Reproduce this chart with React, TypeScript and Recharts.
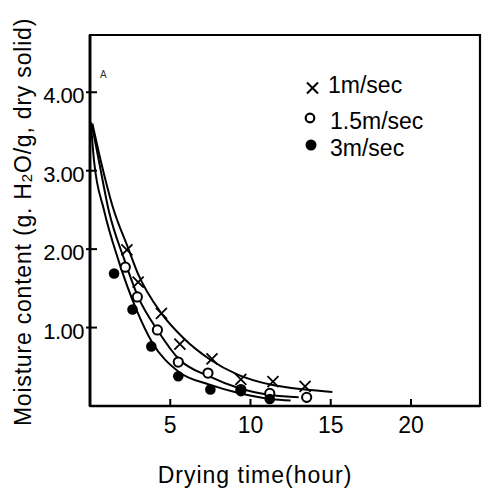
import React from "react";
import { ComposedChart, Line, Scatter, XAxis, YAxis, ReferenceArea } from "recharts";

// fitted curves (drying time h, moisture g/g)
const curve1 = [
  { x: 0.15, y: 3.6 }, { x: 0.7, y: 3.1 }, { x: 1.4, y: 2.55 }, { x: 2.4, y: 2.0 },
  { x: 3.0, y: 1.68 }, { x: 4.45, y: 1.18 }, { x: 5.8, y: 0.87 }, { x: 7.5, y: 0.59 },
  { x: 9.2, y: 0.4 }, { x: 11.3, y: 0.27 }, { x: 13.4, y: 0.21 }, { x: 15.1, y: 0.18 },
];
const curve15 = [
  { x: 0.1, y: 3.6 }, { x: 0.55, y: 3.13 }, { x: 1.16, y: 2.5 }, { x: 2.15, y: 1.86 },
  { x: 3.0, y: 1.39 }, { x: 4.26, y: 0.95 }, { x: 5.53, y: 0.6 }, { x: 7.4, y: 0.38 },
  { x: 9.4, y: 0.22 }, { x: 11.3, y: 0.14 }, { x: 13.0, y: 0.11 },
];
const curve3 = [
  { x: 0.05, y: 3.62 }, { x: 0.25, y: 3.13 }, { x: 0.87, y: 2.5 }, { x: 1.77, y: 1.86 },
  { x: 2.91, y: 1.22 }, { x: 3.85, y: 0.82 }, { x: 5.5, y: 0.44 }, { x: 7.5, y: 0.27 },
  { x: 9.2, y: 0.17 }, { x: 11.3, y: 0.09 }, { x: 12.5, y: 0.07 },
];

// measured points
const pts1 = [
  { x: 2.3, y: 1.99 }, { x: 3.0, y: 1.58 }, { x: 4.45, y: 1.18 }, { x: 5.6, y: 0.79 },
  { x: 7.6, y: 0.6 }, { x: 9.4, y: 0.34 }, { x: 11.4, y: 0.31 }, { x: 13.4, y: 0.25 },
];
const pts15 = [
  { x: 2.2, y: 1.77 }, { x: 2.95, y: 1.39 }, { x: 4.2, y: 0.97 }, { x: 5.5, y: 0.56 },
  { x: 7.35, y: 0.42 }, { x: 9.4, y: 0.21 }, { x: 11.2, y: 0.16 }, { x: 13.5, y: 0.11 },
];
const pts3 = [
  { x: 1.5, y: 1.69 }, { x: 2.65, y: 1.23 }, { x: 3.82, y: 0.76 }, { x: 5.5, y: 0.38 },
  { x: 7.5, y: 0.21 }, { x: 9.4, y: 0.19 }, { x: 11.2, y: 0.09 },
];

const xTicks = [5, 10, 15, 20];
const yTicks = [1, 2, 3, 4];
const yTickLabels = ["1.00", "2.00", "3.00", "4.00"];
const legendLabels = ["1m/sec", "1.5m/sec", "3m/sec"];
const X_MAX = 24.3;
const Y_MAX = 4.73;

const FONT = "'Liberation Sans', Arial, sans-serif";

const XTick = (p: any) => {
  const { x, y, payload } = p;
  return (
    <g>
      <line x1={x} y1={y} x2={x} y2={y - 7} stroke="#000" strokeWidth={2} />
      <text x={x} y={y + 27} textAnchor="middle" fontSize={23} fontFamily={FONT} fill="#000">
        {payload.value}
      </text>
    </g>
  );
};

const YTick = (p: any) => {
  const { x, y, payload } = p;
  const idx = yTicks.indexOf(payload.value);
  return (
    <g>
      <line x1={x - 4} y1={y} x2={x + 7} y2={y} stroke="#000" strokeWidth={2} />
      <text x={x - 6} y={y + 11} textAnchor="end" fontSize={22} letterSpacing={-0.5} fontFamily={FONT} fill="#000">
        {idx >= 0 ? yTickLabels[idx] : ""}
      </text>
    </g>
  );
};

const CrossShape = (p: any) => {
  const { cx, cy } = p;
  const s = 5.5;
  return (
    <path
      d={`M${cx - s},${cy - s}L${cx + s},${cy + s}M${cx - s},${cy + s}L${cx + s},${cy - s}`}
      stroke="#000"
      strokeWidth={1.8}
      fill="none"
    />
  );
};
const OpenShape = (p: any) => (
  <circle cx={p.cx} cy={p.cy} r={4.6} fill="#fff" stroke="#000" strokeWidth={2} />
);
const FilledShape = (p: any) => <circle cx={p.cx} cy={p.cy} r={5.3} fill="#000" />;

export default function App() {
  return (
    <div style={{ position: "absolute", left: 0, top: 0, background: "#fff" }}>
      <ComposedChart width={484} height={489} margin={{ top: 35, right: 4, left: 0, bottom: 0 }}>
        <XAxis
          type="number"
          dataKey="x"
          domain={[0, X_MAX]}
          ticks={xTicks}
          allowDataOverflow
          height={83}
          tickSize={0}
          tickMargin={0}
          tickLine={false}
          tick={<XTick />}
          axisLine={{ stroke: "#000", strokeWidth: 2.6 }}
          interval={0}
        />
        <YAxis
          type="number"
          dataKey="y"
          domain={[0, Y_MAX]}
          ticks={yTicks}
          allowDataOverflow
          width={90}
          tickSize={0}
          tickMargin={0}
          tickLine={false}
          tick={<YTick />}
          axisLine={{ stroke: "#000", strokeWidth: 2.8 }}
          interval={0}
        />
        <ReferenceArea
          x1={0}
          x2={X_MAX}
          y1={0}
          y2={Y_MAX}
          fill="none"
          fillOpacity={0}
          stroke="#000"
          strokeWidth={2.2}
          ifOverflow="visible"
        />
        <Line data={curve1} dataKey="y" type="monotone" dot={false} stroke="#000" strokeWidth={2} isAnimationActive={false} />
        <Line data={curve15} dataKey="y" type="monotone" dot={false} stroke="#000" strokeWidth={2} isAnimationActive={false} />
        <Line data={curve3} dataKey="y" type="monotone" dot={false} stroke="#000" strokeWidth={2} isAnimationActive={false} />
        <Scatter data={pts1} dataKey="y" shape={<CrossShape />} isAnimationActive={false} />
        <Scatter data={pts15} dataKey="y" shape={<OpenShape />} isAnimationActive={false} />
        <Scatter data={pts3} dataKey="y" shape={<FilledShape />} isAnimationActive={false} />
        <g>
          <text x={100} y={78} fontSize={10} fontFamily={FONT} fill="#333">A</text>
          <path d="M307,82.5L318,93.5M307,93.5L318,82.5" stroke="#000" strokeWidth={2} />
          <text x={328} y={93} fontSize={23} fontFamily={FONT} fill="#000">{legendLabels[0]}</text>
          <circle cx={310} cy={118} r={4.3} fill="#fff" stroke="#000" strokeWidth={2.2} />
          <text x={330} y={129} fontSize={23} fontFamily={FONT} fill="#000">{legendLabels[1]}</text>
          <circle cx={311} cy={145} r={5.5} fill="#000" />
          <text x={330} y={156} fontSize={23} fontFamily={FONT} fill="#000">{legendLabels[2]}</text>
          <text
            x={31}
            y={222}
            textAnchor="middle"
            fontSize={23}
            letterSpacing={0.8}
            fontFamily={FONT}
            fill="#000"
            transform="rotate(-90, 31, 222)"
          >
            Moisture content (g. H<tspan fontSize={15} dy={1}>2</tspan>
            <tspan dy={-1}>O/g, dry solid)</tspan>
          </text>
          <text x={255} y={483} textAnchor="middle" fontSize={23} letterSpacing={1} fontFamily={FONT} fill="#000">
            Drying time(hour)
          </text>
        </g>
      </ComposedChart>
    </div>
  );
}
